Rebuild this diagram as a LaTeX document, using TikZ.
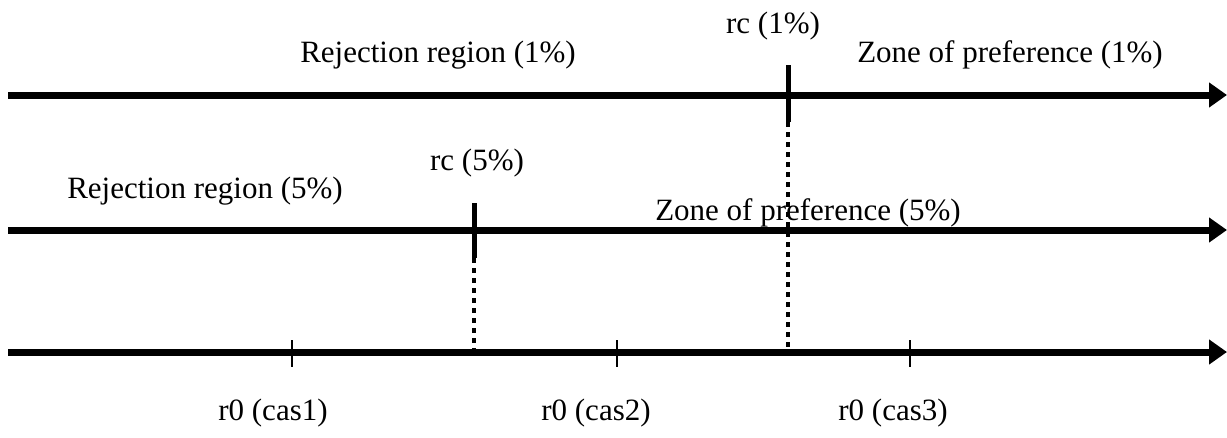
\documentclass[tikz,border=0pt]{standalone}
\usepackage{fontspec}
\setmainfont{Liberation Serif}
\usetikzlibrary{arrows.meta}
\begin{document}
\begin{tikzpicture}[x=1pt,y=-1pt,
  axis/.style={line width=7pt,-{Triangle[length=18pt,width=24pt]}},
  rcbar/.style={line width=5pt},
  rcdot/.style={line width=4.5pt,dash pattern=on 4.5pt off 5.5pt},
  tick/.style={line width=1.5pt},
  lbl/.style={anchor=base,inner sep=0pt,font=\fontsize{31}{35}\selectfont}]
\useasboundingbox (0,0) rectangle (1227,437);
% axes
\coordinate (a1s) at (8,95);  \coordinate (a1e) at (1227,95);
\coordinate (a2s) at (8,230); \coordinate (a2e) at (1227,230);
\coordinate (a3s) at (8,352); \coordinate (a3e) at (1227,352);
\draw[axis] (a1s) -- (a1e);
\draw[axis] (a2s) -- (a2e);
\draw[axis] (a3s) -- (a3e);
% rc (1%)
\coordinate (rc1t) at (788,65); \coordinate (rc1b) at (788,122); \coordinate (rc1e) at (788,350);
\draw[rcbar] (rc1t) -- (rc1b);
\draw[rcdot] (rc1b) -- (rc1e);
% rc (5%)
\coordinate (rc5t) at (474,203); \coordinate (rc5b) at (474,258); \coordinate (rc5e) at (474,350);
\draw[rcbar] (rc5t) -- (rc5b);
\draw[rcdot] (rc5b) -- (rc5e);
% ticks
\coordinate (t1a) at (292,340); \coordinate (t1b) at (292,367);
\coordinate (t2a) at (617,340); \coordinate (t2b) at (617,367);
\coordinate (t3a) at (910,340); \coordinate (t3b) at (910,367);
\draw[tick] (t1a) -- (t1b);
\draw[tick] (t2a) -- (t2b);
\draw[tick] (t3a) -- (t3b);
% labels
\node[lbl] (lrc1) at (773,33) {rc (1\%)};
\node[lbl] (lrej1) at (438,62) {Rejection region (1\%)};
\node[lbl] (lzone1) at (1010,62) {Zone of preference (1\%)};
\node[lbl] (lrej5) at (205,198) {Rejection region (5\%)};
\node[lbl] (lrc5) at (477,170) {rc (5\%)};
\node[lbl] (lzone5) at (808,220) {Zone of preference (5\%)};
\node[lbl] (lc1) at (273,420) {r0 (cas1)};
\node[lbl] (lc2) at (596,420) {r0 (cas2)};
\node[lbl] (lc3) at (893,420) {r0 (cas3)};
\end{tikzpicture}
\end{document}
